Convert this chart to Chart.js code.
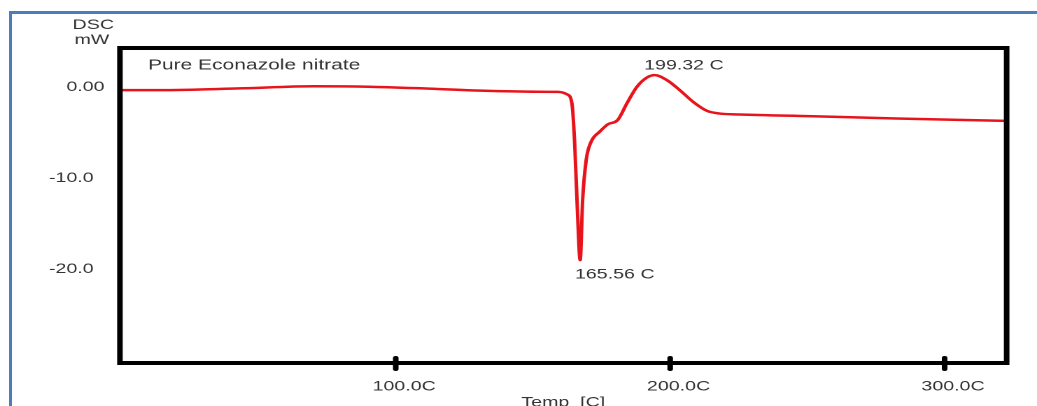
<!DOCTYPE html>
<html>
<head>
<meta charset="utf-8">
<script src="https://cdn.jsdelivr.net/npm/chart.js@4.4.1/dist/chart.umd.min.js"></script>
<style>
  body { margin: 0; width: 1037px; height: 406px; overflow: hidden; background: #fff; position: relative; }
  #frame { position: absolute; left: 9px; top: 11px; width: 2000px; height: 1000px;
           border-left: 3px solid #4a7ebb; border-top: 3px solid #4a7ebb; }
  #c { position: absolute; left: 0; top: 0; transform-origin: 0 0; }
</style>
</head>
<body>
<div id="frame"></div>
<canvas id="c" width="741" height="420"></canvas>
<script>
// DSC thermogram
const temps = [0, 14, 43, 70, 90, 112, 131, 152, 159, 162.5, 164.2, 165.2, 166.3, 167.2, 168.1,
               169.4, 171.2, 174.3, 177.2, 180.9, 184.2, 187.8, 191.5, 194.4, 198.8, 203.5,
               208.3, 213.4, 218.1, 225.4, 251.9, 282.4, 322.6];
const heatFlow = [-0.33, -0.33, -0.14, 0.10, 0.05, -0.16, -0.38, -0.5, -0.52, -0.8, -1.8, -6.2, -14.3, -19.0, -12.4,
                  -8.0, -6.0, -4.9, -4.1, -3.6, -1.8, 0.0, 1.05, 1.32, 0.77, -0.33,
                  -1.6, -2.6, -2.9, -3.0, -3.19, -3.44, -3.70];

const xTicks = [100, 200, 300];
const yTicks = [0, -10, -20];

// peak labels, in data units
const notes = [
    { text: 'Pure Econazole nitrate', x: 9.7, y: 2.4, align: 'left', size: 15 },
    { text: '199.32 C', x: 205, y: 2.35, align: 'center', size: 14 },
    { text: '165.56 C', x: 179.8, y: -20.6, align: 'center', size: 14 }
];

const SX = 1037 / 741;   // the original figure is stretched sideways
const canvas = document.getElementById('c');
canvas.style.transform = `scaleX(${SX})`;

const FONT = "'Liberation Sans', Arial, sans-serif";
const TEXT = '#333';

const framePlugin = {
    id: 'frame',
    afterDraw(chart) {
        const { ctx, chartArea: a, scales } = chart;
        ctx.save();
        ctx.strokeStyle = '#000';
        ctx.lineWidth = 4;
        ctx.strokeRect(a.left, a.top, a.right - a.left, a.bottom - a.top);

        // tick marks across the bottom axis
        ctx.lineCap = 'round';
        xTicks.forEach(v => {
            const px = scales.x.getPixelForValue(v);
            ctx.beginPath();
            ctx.moveTo(px, a.bottom - 5);
            ctx.lineTo(px, a.bottom + 6);
            ctx.stroke();
        });

        ctx.fillStyle = TEXT;
        ctx.textBaseline = 'middle';
        ctx.textAlign = 'center';
        ctx.font = `14px ${FONT}`;
        ctx.fillText('DSC', a.left - 19, 25);
        ctx.fillText('mW', a.left - 20, 40);

        notes.forEach(n => {
            ctx.font = `${n.size}px ${FONT}`;
            ctx.textAlign = n.align;
            ctx.fillText(n.text, scales.x.getPixelForValue(n.x), scales.y.getPixelForValue(n.y));
        });
        ctx.restore();
    }
};

new Chart(canvas, {
    type: 'line',
    data: {
        datasets: [{
            data: temps.map((t, i) => ({ x: t, y: heatFlow[i] })),
            borderColor: '#e8141b',
            borderWidth: 2.5,
            pointRadius: 0,
            fill: false,
            cubicInterpolationMode: 'monotone'
        }]
    },
    options: {
        responsive: false,
        devicePixelRatio: 2,
        animation: false,
        layout: { padding: { top: 48, right: 741 - 719.3, left: 0, bottom: 0 } },
        plugins: { legend: { display: false }, tooltip: { enabled: false } },
        scales: {
            x: {
                type: 'linear',
                min: -0.5,
                max: 322.6,
                afterFit: s => { s.height = 420 - 363; },
                afterBuildTicks: s => { s.ticks = xTicks.map(v => ({ value: v })); },
                grid: { display: false },
                border: { display: false },
                ticks: {
                    padding: 7,
                    labelOffset: 6,
                    color: TEXT,
                    font: { family: FONT, size: 14 },
                    maxRotation: 0,
                    callback: v => v.toFixed(1) + 'C'
                },
                title: {
                    display: true,
                    text: 'Temp  [C]',
                    color: TEXT,
                    font: { family: FONT, size: 14 },
                    padding: { top: 0, bottom: 9 }
                }
            },
            y: {
                min: -30.3,
                max: 4.3,
                afterFit: s => { s.width = 85.7; },
                afterBuildTicks: s => { s.ticks = yTicks.map(v => ({ value: v })); },
                grid: { display: false },
                border: { display: false },
                ticks: {
                    padding: 3,
                    color: TEXT,
                    font: { family: FONT, size: 14 },
                    // the zero label sits further right than the others
                    callback: v => v === 0 ? '0.00' : v.toFixed(1) + '  '
                }
            }
        }
    },
    plugins: [framePlugin]
});
</script>
</body>
</html>
